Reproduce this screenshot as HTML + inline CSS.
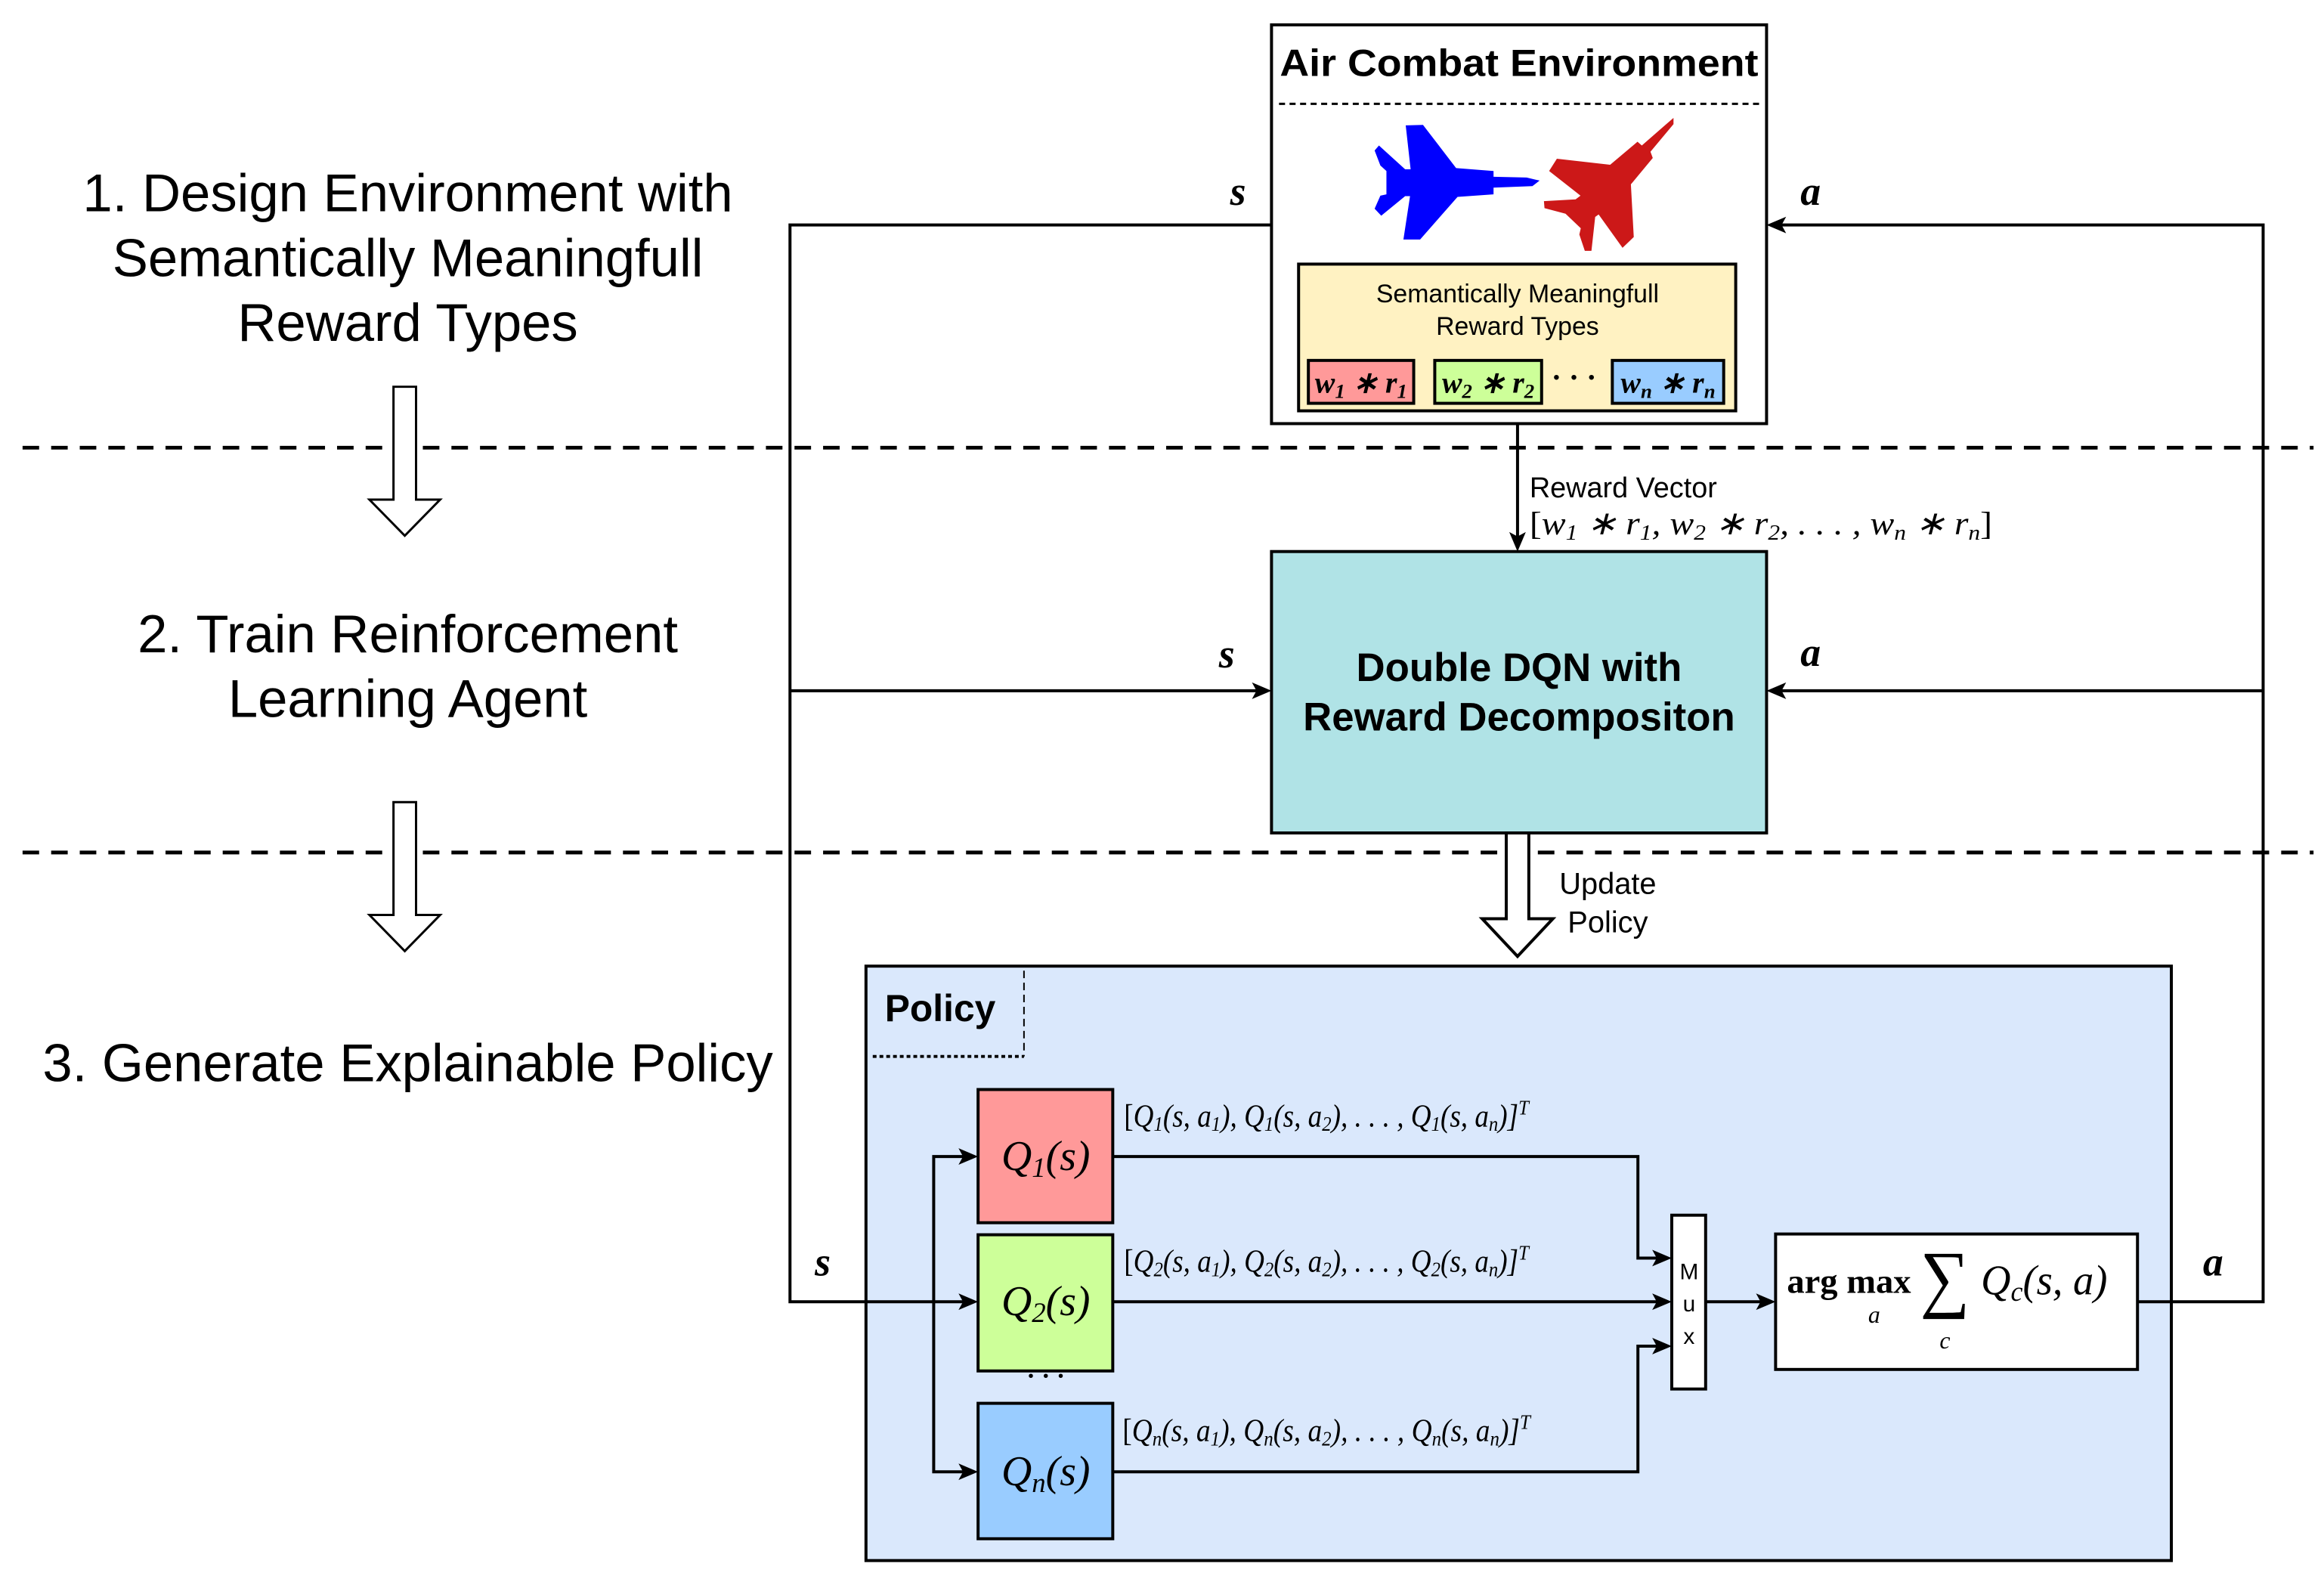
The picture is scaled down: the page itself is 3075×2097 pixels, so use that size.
<!DOCTYPE html>
<html><head><meta charset="utf-8"><style>
html,body{margin:0;padding:0;background:#fff;}
svg{display:block;}
.sans{font-family:"Liberation Sans",sans-serif;}
.serif{font-family:"Liberation Serif",serif;}
.m{font-family:"Liberation Serif",serif;font-style:italic;}
</style></head><body>
<svg width="3075" height="2097" viewBox="0 0 3075 2097" xmlns="http://www.w3.org/2000/svg">
<rect width="3075" height="2097" fill="#fff"/>
<g transform="scale(0.9955)">
<line x1="30" y1="595" x2="3075" y2="595" stroke="#000" stroke-width="5" stroke-dasharray="22,16"/>
<line x1="30" y1="1133" x2="3075" y2="1133" stroke="#000" stroke-width="5" stroke-dasharray="22,16"/>

<g class="sans" font-size="71" text-anchor="middle" fill="#000">
<text x="542" y="281">1. Design Environment with</text>
<text x="542" y="367">Semantically Meaningfull</text>
<text x="542" y="453">Reward Types</text>
<text x="542" y="867">2. Train Reinforcement</text>
<text x="542" y="953">Learning Agent</text>
<text x="542" y="1437">3. Generate Explainable Policy</text>
</g>
<polygon points="523,514 553,514 553,664 585,664 538,712 491,664 523,664" fill="#fff" stroke="#000" stroke-width="3"/>
<polygon points="523,1066 553,1066 553,1216 585,1216 538,1264 491,1216 523,1216" fill="#fff" stroke="#000" stroke-width="3"/>

<rect x="1151" y="1284" width="1735" height="790" fill="#dae8fc" stroke="#000" stroke-width="4"/>
<line x1="1361" y1="1290" x2="1361" y2="1404" stroke="#000" stroke-width="2" stroke-dasharray="10,6"/>
<line x1="1160" y1="1404" x2="1361" y2="1404" stroke="#000" stroke-width="4" stroke-dasharray="5,4"/>
<text x="1176" y="1357" class="sans" font-weight="bold" font-size="50">Policy</text>

<g stroke="#000" stroke-width="4" fill="none">
<polyline points="1690,299 1050,299 1050,1730 1290,1730"/>
<line x1="1050" y1="918" x2="1680" y2="918"/>
<polyline points="2841,1730 3008,1730 3008,299 2358,299"/>
<line x1="3008" y1="918" x2="2358" y2="918"/>
<line x1="2017" y1="563" x2="2017" y2="723"/>
<polyline points="1290,1537 1241,1537 1241,1956 1290,1956"/>
<polyline points="1479,1537 2177,1537 2177,1672 2212,1672"/>
<line x1="1479" y1="1730" x2="2212" y2="1730"/>
<polyline points="1479,1956 2177,1956 2177,1789 2212,1789"/>
<line x1="2267" y1="1730" x2="2350" y2="1730"/>
</g>
<g fill="#000">
<polygon points="1690,918 1664,907 1670,918 1664,929"/>
<polygon points="2348,299 2374,288 2368,299 2374,310"/>
<polygon points="2348,918 2374,907 2368,918 2374,929"/>
<polygon points="2017,733 2006,707 2017,713 2028,707"/>
<polygon points="1300,1537 1274,1526 1280,1537 1274,1548"/>
<polygon points="1300,1730 1274,1719 1280,1730 1274,1741"/>
<polygon points="1300,1956 1274,1945 1280,1956 1274,1967"/>
<polygon points="2222,1672 2196,1661 2202,1672 2196,1683"/>
<polygon points="2222,1730 2196,1719 2202,1730 2196,1741"/>
<polygon points="2222,1789 2196,1778 2202,1789 2196,1800"/>
<polygon points="2360,1730 2334,1719 2340,1730 2334,1741"/>
</g>

<rect x="1690" y="33" width="658" height="530" fill="#fff" stroke="#000" stroke-width="4"/>
<text x="2019" y="101" class="sans" font-weight="bold" font-size="50" text-anchor="middle" textLength="636" lengthAdjust="spacingAndGlyphs">Air Combat Environment</text>
<line x1="1700" y1="138" x2="2340" y2="138" stroke="#000" stroke-width="3" stroke-dasharray="8,6"/>
<g transform="translate(1700,140) scale(0.3827,0.3333)">
<polygon fill="#0000ff" points="440,80 500,78 615,250 745,262 745,285 860,288 905,300 880,322 745,328 745,355 620,365 490,535 432,535 455,362 438,362 355,440 332,412 352,360 373,355 373,262 352,240 332,180 347,160 438,255 457,255"/>
<polygon fill="#cc1818" points="1370,50 1370,75 1290,185 1298,210 1222,315 1232,525 1193,568 1110,435 1098,445 1085,580 1062,580 1043,515 1048,490 995,432 922,410 920,382 1030,375 1047,360 938,262 965,213 1150,237 1245,145 1260,160 1340,80"/>
</g>
<rect x="1726" y="351" width="581" height="195" fill="#fff2c2" stroke="#000" stroke-width="4"/>
<g class="sans" font-size="34" text-anchor="middle"><text x="2017" y="402">Semantically Meaningfull</text><text x="2017" y="445">Reward Types</text></g>
<rect x="1739" y="479" width="140" height="57" fill="#ff9999" stroke="#000" stroke-width="4"/>
<rect x="1907" y="479" width="142" height="57" fill="#cdff99" stroke="#000" stroke-width="4"/>
<rect x="2143" y="479" width="148" height="57" fill="#99ccff" stroke="#000" stroke-width="4"/>
<g class="m" font-size="40" font-weight="bold" text-anchor="middle">
<text x="1809" y="522">w<tspan font-size="27" dy="7">1</tspan><tspan dy="-7"> ∗ r</tspan><tspan font-size="27" dy="7">1</tspan></text>
<text x="1978" y="522">w<tspan font-size="27" dy="7">2</tspan><tspan dy="-7"> ∗ r</tspan><tspan font-size="27" dy="7">2</tspan></text>
<text x="2217" y="522">w<tspan font-size="27" dy="7">n</tspan><tspan dy="-7"> ∗ r</tspan><tspan font-size="27" dy="7">n</tspan></text>
</g>
<text x="2092" y="515" class="serif" font-size="40" font-weight="bold" text-anchor="middle">· · ·</text>

<g class="m" font-weight="bold" font-size="54">
<text x="1635" y="272">s</text>
<text x="1620" y="887">s</text>
<text x="1083" y="1695">s</text>
<text x="2393" y="272">a</text>
<text x="2393" y="885">a</text>
<text x="2928" y="1695">a</text>
</g>

<text x="2033" y="661" class="sans" font-size="38">Reward Vector</text>
<text x="2033" y="710" class="m" font-size="44" textLength="615" lengthAdjust="spacingAndGlyphs"><tspan font-style="normal">[</tspan>w<tspan font-size="29" dy="7">1</tspan><tspan dy="-7"> ∗ r</tspan><tspan font-size="29" dy="7">1</tspan><tspan dy="-7">, w</tspan><tspan font-size="29" dy="7">2</tspan><tspan dy="-7"> ∗ r</tspan><tspan font-size="29" dy="7">2</tspan><tspan dy="-7">, . . . , w</tspan><tspan font-size="29" dy="7">n</tspan><tspan dy="-7"> ∗ r</tspan><tspan font-size="29" dy="7">n</tspan><tspan dy="-7" font-style="normal">]</tspan></text>

<rect x="1690" y="733" width="658" height="374" fill="#b0e3e6" stroke="#000" stroke-width="4"/>
<g class="sans" font-weight="bold" font-size="53" text-anchor="middle"><text x="2019" y="905">Double DQN with</text><text x="2019" y="971">Reward Decompositon</text></g>

<polygon points="2002,1107 2032,1107 2032,1221 2064,1221 2017,1271 1970,1221 2002,1221" fill="#fff" stroke="#000" stroke-width="4"/>
<g class="sans" font-size="40" text-anchor="middle"><text x="2137" y="1188">Update</text><text x="2137" y="1239">Policy</text></g>

<rect x="1300" y="1448" width="179" height="177" fill="#ff9999" stroke="#000" stroke-width="4"/>
<rect x="1300" y="1641" width="179" height="181" fill="#cdff99" stroke="#000" stroke-width="4"/>
<rect x="1300" y="1865" width="179" height="180" fill="#99ccff" stroke="#000" stroke-width="4"/>
<g class="m" font-size="56" text-anchor="middle">
<text x="1390" y="1555">Q<tspan font-size="37" dy="9">1</tspan><tspan dy="-9">(s)</tspan></text>
<text x="1390" y="1748">Q<tspan font-size="37" dy="9">2</tspan><tspan dy="-9">(s)</tspan></text>
<text x="1390" y="1974">Q<tspan font-size="37" dy="9">n</tspan><tspan dy="-9">(s)</tspan></text>
</g>
<text x="1390" y="1840" class="serif" font-size="34" font-weight="bold" text-anchor="middle">· · ·</text>

<g class="m" font-size="42">
<text x="1494" y="1497" textLength="538" lengthAdjust="spacingAndGlyphs"><tspan font-style="normal">[</tspan>Q<tspan font-size="28" dy="6">1</tspan><tspan dy="-6">(s, a</tspan><tspan font-size="28" dy="6">1</tspan><tspan dy="-6">), Q</tspan><tspan font-size="28" dy="6">1</tspan><tspan dy="-6">(s, a</tspan><tspan font-size="28" dy="6">2</tspan><tspan dy="-6">), . . . , Q</tspan><tspan font-size="28" dy="6">1</tspan><tspan dy="-6">(s, a</tspan><tspan font-size="28" dy="6">n</tspan><tspan dy="-6">)]</tspan><tspan font-size="28" dy="-16">T</tspan></text>
<text x="1494" y="1690" textLength="538" lengthAdjust="spacingAndGlyphs"><tspan font-style="normal">[</tspan>Q<tspan font-size="28" dy="6">2</tspan><tspan dy="-6">(s, a</tspan><tspan font-size="28" dy="6">1</tspan><tspan dy="-6">), Q</tspan><tspan font-size="28" dy="6">2</tspan><tspan dy="-6">(s, a</tspan><tspan font-size="28" dy="6">2</tspan><tspan dy="-6">), . . . , Q</tspan><tspan font-size="28" dy="6">2</tspan><tspan dy="-6">(s, a</tspan><tspan font-size="28" dy="6">n</tspan><tspan dy="-6">)]</tspan><tspan font-size="28" dy="-16">T</tspan></text>
<text x="1492" y="1915" textLength="542" lengthAdjust="spacingAndGlyphs"><tspan font-style="normal">[</tspan>Q<tspan font-size="28" dy="6">n</tspan><tspan dy="-6">(s, a</tspan><tspan font-size="28" dy="6">1</tspan><tspan dy="-6">), Q</tspan><tspan font-size="28" dy="6">n</tspan><tspan dy="-6">(s, a</tspan><tspan font-size="28" dy="6">2</tspan><tspan dy="-6">), . . . , Q</tspan><tspan font-size="28" dy="6">n</tspan><tspan dy="-6">(s, a</tspan><tspan font-size="28" dy="6">n</tspan><tspan dy="-6">)]</tspan><tspan font-size="28" dy="-16">T</tspan></text>
</g>

<rect x="2222" y="1615" width="45" height="231" fill="#fff" stroke="#000" stroke-width="4"/>
<g class="sans" font-size="30" text-anchor="middle"><text x="2245" y="1700">M</text><text x="2245" y="1743">u</text><text x="2245" y="1786">x</text></g>

<rect x="2360" y="1640" width="481" height="180" fill="#fff" stroke="#000" stroke-width="4"/>
<text x="2375" y="1718" class="serif" font-weight="bold" font-size="46" textLength="165" lengthAdjust="spacingAndGlyphs">arg max</text>
<text x="2483" y="1758" class="m" font-size="32">a</text>
<text x="2552" y="1732" class="serif" font-size="100" textLength="66" lengthAdjust="spacingAndGlyphs">∑</text>
<text x="2578" y="1792" class="m" font-size="32">c</text>
<text x="2633" y="1720" class="m" font-size="56" textLength="168" lengthAdjust="spacingAndGlyphs">Q<tspan font-size="37" dy="9">c</tspan><tspan dy="-9">(s, a)</tspan></text>
</g>
</svg>
</body></html>
